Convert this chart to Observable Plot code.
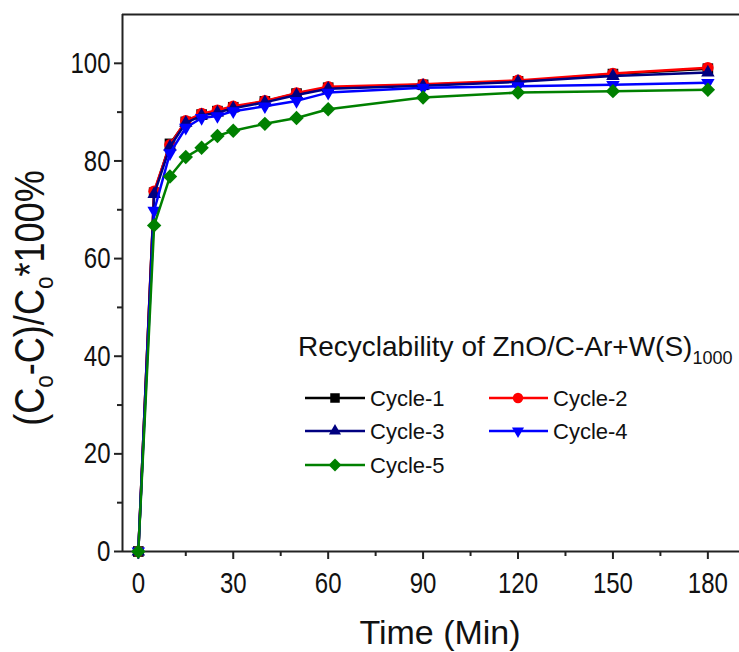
<!DOCTYPE html>
<html><head><meta charset="utf-8">
<script src="https://cdn.jsdelivr.net/npm/d3@7"></script>
<script src="https://cdn.jsdelivr.net/npm/@observablehq/plot@0.6"></script>
<style>body{margin:0;background:#fff} #chart{width:739px;height:652px}</style>
</head><body><div id="chart"></div>
<script>
const time = [0, 5, 10, 15, 20, 25, 30, 40, 50, 60, 90, 120, 150, 180];
const cycle1 = [0, 73.5, 83.5, 88.0, 89.5, 90.2, 91.0, 92.2, 93.8, 95.0, 95.6, 96.3, 97.8, 98.9];
const cycle2 = [0, 73.8, 83.3, 88.2, 89.7, 90.4, 91.2, 92.3, 93.9, 95.2, 95.7, 96.5, 97.9, 99.1];
const cycle3 = [0, 73.2, 82.9, 87.8, 89.3, 89.9, 90.8, 92.0, 93.5, 94.8, 95.4, 96.2, 97.4, 98.1];
const cycle4 = [0, 69.8, 81.6, 86.8, 88.8, 89.2, 90.2, 91.2, 92.3, 94.0, 95.0, 95.3, 95.6, 96.0];
const cycle5 = [0, 66.8, 76.8, 80.8, 82.7, 85.1, 86.2, 87.6, 88.8, 90.6, 93.0, 94.0, 94.3, 94.6];
const seriesNames = ["Cycle-1", "Cycle-2", "Cycle-3", "Cycle-4", "Cycle-5"];
const seriesValues = [cycle1, cycle2, cycle3, cycle4, cycle5];
const seriesColors = ["#000000", "#ff0000", "#000080", "#0000ff", "#008000"];
const xTicks = [0, 30, 60, 90, 120, 150, 180];
const xMinorTicks = [15, 45, 75, 105, 135, 165];
const yTicks = [0, 20, 40, 60, 80, 100];
const yMinorTicks = [10, 30, 50, 70, 90];
const legendTitle = "Recyclability of ZnO/C-Ar+W(S)";
const legendTitleSub = "1000";

const triangleDown = {
  draw(ctx, size) {
    const y = -Math.sqrt(size / (Math.sqrt(3) * 3));
    ctx.moveTo(0, -2 * y);
    ctx.lineTo(-Math.sqrt(3) * y, y);
    ctx.lineTo(Math.sqrt(3) * y, y);
    ctx.closePath();
  }
};
const seriesSymbols = [d3.symbolSquare, d3.symbolCircle, d3.symbolTriangle, triangleDown, d3.symbolDiamond2];
const seriesR = [6, 5.8, 5, 5, 6.5];

const data = seriesNames.map((name, i) => time.map((t, j) => ({t, v: seriesValues[i][j], name})));

const font = "'Liberation Sans', Arial, sans-serif";
const axisColor = "#222";

const marks = [
  Plot.ruleY([0], {stroke: axisColor, strokeWidth: 2}),
  Plot.ruleY([110], {stroke: axisColor, strokeWidth: 2}),
  Plot.ruleX([-5], {stroke: axisColor, strokeWidth: 2}),
  Plot.axisX({ticks: xTicks, tickSize: 8, tickPadding: 12, fontSize: 30, stroke: axisColor, strokeWidth: 2, label: null, fill: "#111", className: "tl"}),
  Plot.axisX({ticks: xMinorTicks, tickSize: 5, tickFormat: () => "", stroke: axisColor, strokeWidth: 2, label: null}),
  Plot.axisY({ticks: yTicks, tickSize: 8, tickPadding: 4, fontSize: 30, stroke: axisColor, strokeWidth: 2, label: null, fill: "#111", className: "tl"}),
  Plot.axisY({ticks: yMinorTicks, tickSize: 5, tickFormat: () => "", stroke: axisColor, strokeWidth: 2, label: null})
];
data.forEach((d, i) => {
  marks.push(Plot.line(d, {x: "t", y: "v", stroke: seriesColors[i], strokeWidth: 2.5}));
  marks.push(Plot.dot(d, {x: "t", y: "v", fill: seriesColors[i], stroke: "none", symbol: seriesSymbols[i], r: seriesR[i]}));
});

const svg = Plot.plot({
  width: 739, height: 652,
  marginLeft: 122, marginRight: 0, marginTop: 14, marginBottom: 101,
  x: {domain: [-5, 190]},
  y: {domain: [0, 110]},
  style: {fontFamily: font, background: "#fff", color: "#111"},
  marks
});
document.getElementById("chart").appendChild(svg);

// narrow the tick labels like the reference's condensed digits
svg.querySelectorAll("text").forEach(t => {
  if (t.textContent.trim() === "") return;
  const len = t.getComputedTextLength();
  t.setAttribute("textLength", (len * 0.8).toFixed(1));
  t.setAttribute("lengthAdjust", "spacingAndGlyphs");
});

const s = d3.select(svg);
// x-axis title
s.append("text").attr("x", 440).attr("y", 644).attr("text-anchor", "middle")
  .style("font-family", font).style("font-size", "34px").attr("fill", "#111")
  .text("Time (Min)");
// y-axis title
const yl = s.append("text").attr("transform", "translate(44,298) rotate(-90) scale(0.86,1)").attr("text-anchor", "middle")
  .style("font-family", font).style("font-size", "42px").attr("fill", "#111");
yl.append("tspan").text("(C");
yl.append("tspan").attr("dy", 9).style("font-size", "26px").text("o");
yl.append("tspan").attr("dy", -9).text("-C)/C");
yl.append("tspan").attr("dy", 9).style("font-size", "26px").text("o");
yl.append("tspan").attr("dy", -9).text("*100%");

// legend
const lg = s.append("g").style("font-family", font).attr("text-anchor", "start");
const lt = lg.append("text").attr("x", 298).attr("y", 356).attr("text-anchor", "start").style("font-size", "28px").attr("fill", "#111");
lt.append("tspan").text(legendTitle);
lt.append("tspan").attr("dy", 8).style("font-size", "18px").text(legendTitleSub);
const cols = [{x0: 305, x1: 365, mx: 335, tx: 370}, {x0: 489, x1: 548, mx: 518, tx: 553}];
const rows = [398, 431, 465];
seriesNames.forEach((name, i) => {
  const c = cols[i % 2], y = rows[Math.floor(i / 2)];
  lg.append("line").attr("x1", c.x0).attr("x2", c.x1).attr("y1", y).attr("y2", y)
    .attr("stroke", seriesColors[i]).attr("stroke-width", 2.5);
  lg.append("path").attr("transform", `translate(${c.mx},${y})`)
    .attr("d", d3.symbol(seriesSymbols[i], Math.PI * seriesR[i] * seriesR[i] * 0.8)())
    .attr("fill", seriesColors[i]);
  lg.append("text").attr("x", c.tx).attr("y", y + 8).attr("text-anchor", "start").style("font-size", "22px").attr("fill", "#111").text(name);
});
</script></body></html>
